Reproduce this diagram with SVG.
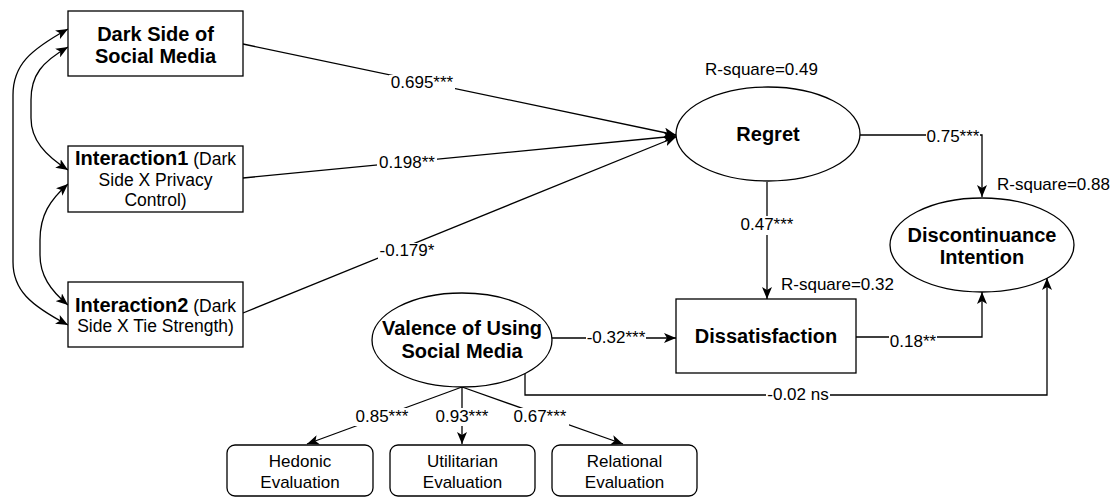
<svg xmlns="http://www.w3.org/2000/svg" width="1119" height="497" viewBox="0 0 1119 497">
  <style>
    text { font-family: "Liberation Sans", Arial, Helvetica, sans-serif; fill: #000; }
    .node { fill: #fff; stroke: #000; stroke-width: 1.3; }
    .title { font-size: 20px; font-weight: bold; text-anchor: middle; }
    .sub { font-size: 17.5px; font-weight: normal; }
    .plain { font-size: 17px; text-anchor: middle; }
    .lbl { font-size: 17px; text-anchor: middle; }
    .rsq { font-size: 17px; }
    .edge { fill: none; stroke: #000; stroke-width: 1.3; marker-end: url(#arrow); }
    .both { marker-start: url(#arrow); }
    .bg { fill: #fff; stroke: none; }
  </style>
  <defs>
    <marker id="arrow" viewBox="0 0 12 10" refX="12" refY="5" markerWidth="12" markerHeight="10" markerUnits="userSpaceOnUse" orient="auto-start-reverse">
      <path d="M0,0 L12,5 L0,10 L3,5 Z" fill="#000"/>
    </marker>
  </defs>

  <rect width="1119" height="497" fill="#fff"/>

  <!-- connectors -->
  <g id="connectors">
    <!-- correlations between the exogenous constructs -->
    <path class="edge both" d="M68,29 C30,50 13,65 13,95 L13,262 C13,290 30,305 68,325"/>
    <path class="edge both" d="M68,47 C42,62 31,75 31,100 L31,118 C31,140 45,155 68,170"/>
    <path class="edge both" d="M68,184 C50,200 40,215 40,240 L40,255 C40,275 50,290 68,305"/>

    <!-- paths into Regret -->
    <path class="edge" d="M243,44 L676,135"/>
    <path class="edge" d="M243,178 L676,136"/>
    <path class="edge" d="M243,313 L676,137"/>

    <!-- structural paths -->
    <path class="edge" d="M860,135 L982,135 L982,197"/>
    <path class="edge" d="M767,182 L767,299"/>
    <path class="edge" d="M552,338 L676,338"/>
    <path class="edge" d="M856,337 L982,337 L982,292"/>
    <path class="edge" d="M525,373 L525,395 L1047,395 L1047,278"/>

    <!-- measurement paths -->
    <path class="edge" d="M462,387 L307,444"/>
    <path class="edge" d="M462,387 L462,444"/>
    <path class="edge" d="M462,387 L623,444"/>

    <!-- coefficient labels -->
    <rect class="bg" x="389" y="75" width="66" height="18"/>
    <text class="lbl" x="422" y="88">0.695***</text>
    <rect class="bg" x="377" y="155" width="60" height="18"/>
    <text class="lbl" x="407" y="168">0.198**</text>
    <rect class="bg" x="378" y="243" width="58" height="18"/>
    <text class="lbl" x="407" y="256">-0.179*</text>
    <rect class="bg" x="926" y="129" width="54" height="18"/>
    <text class="lbl" x="953" y="142">0.75***</text>
    <rect class="bg" x="740" y="216" width="54" height="19"/>
    <text class="lbl" x="767" y="230">0.47***</text>
    <rect class="bg" x="586" y="330" width="60" height="18"/>
    <text class="lbl" x="616" y="343">-0.32***</text>
    <rect class="bg" x="889" y="333" width="48" height="18"/>
    <text class="lbl" x="913" y="347">0.18**</text>
    <rect class="bg" x="766" y="386" width="64" height="18"/>
    <text class="lbl" x="798" y="400">-0.02 ns</text>
    <rect class="bg" x="353" y="408" width="58" height="18"/>
    <text class="lbl" x="382" y="422">0.85***</text>
    <rect class="bg" x="435" y="408" width="54" height="18"/>
    <text class="lbl" x="462" y="422">0.93***</text>
    <rect class="bg" x="511" y="408" width="58" height="18"/>
    <text class="lbl" x="540" y="422">0.67***</text>
  </g>

  <g id="dark-side">
    <rect class="node" x="68" y="11" width="175" height="65"/>
    <text class="title" x="155.5" y="41">Dark Side of</text>
    <text class="title" x="155.5" y="63">Social Media</text>
  </g>

  <g id="interaction1">
    <rect class="node" x="68" y="146" width="175" height="66"/>
    <text class="title" x="155.5" y="165">Interaction1<tspan class="sub"> (Dark</tspan></text>
    <text class="title sub" x="155.5" y="186">Side X Privacy</text>
    <text class="title sub" x="155.5" y="206">Control)</text>
  </g>

  <g id="interaction2">
    <rect class="node" x="68" y="282" width="175" height="65"/>
    <text class="title" x="155.5" y="312">Interaction2<tspan class="sub"> (Dark</tspan></text>
    <text class="title sub" x="155.5" y="332">Side X Tie Strength)</text>
  </g>

  <g id="regret">
    <ellipse class="node" cx="768" cy="134" rx="92" ry="47"/>
    <text class="title" x="768" y="141">Regret</text>
    <text class="rsq" x="705" y="75">R-square=0.49</text>
  </g>

  <g id="discontinuance">
    <ellipse class="node" cx="982" cy="245" rx="92" ry="47"/>
    <text class="title" x="982" y="242">Discontinuance</text>
    <text class="title" x="982" y="264">Intention</text>
    <text class="rsq" x="997" y="190">R-square=0.88</text>
  </g>

  <g id="dissatisfaction">
    <rect class="node" x="676" y="299" width="180" height="74"/>
    <text class="title" x="766" y="343">Dissatisfaction</text>
    <text class="rsq" x="781" y="290">R-square=0.32</text>
  </g>

  <g id="valence">
    <ellipse class="node" cx="462" cy="340" rx="90" ry="47"/>
    <text class="title" x="462" y="335">Valence of Using</text>
    <text class="title" x="462" y="358">Social Media</text>
  </g>

  <g id="hedonic">
    <rect class="node" x="227" y="445" width="146" height="51" rx="8"/>
    <text class="plain" x="300" y="467">Hedonic</text>
    <text class="plain" x="300" y="488">Evaluation</text>
  </g>

  <g id="utilitarian">
    <rect class="node" x="390" y="445" width="145" height="51" rx="8"/>
    <text class="plain" x="462.5" y="467">Utilitarian</text>
    <text class="plain" x="462.5" y="488">Evaluation</text>
  </g>

  <g id="relational">
    <rect class="node" x="552" y="445" width="145" height="51" rx="8"/>
    <text class="plain" x="624.5" y="467">Relational</text>
    <text class="plain" x="624.5" y="488">Evaluation</text>
  </g>
</svg>
